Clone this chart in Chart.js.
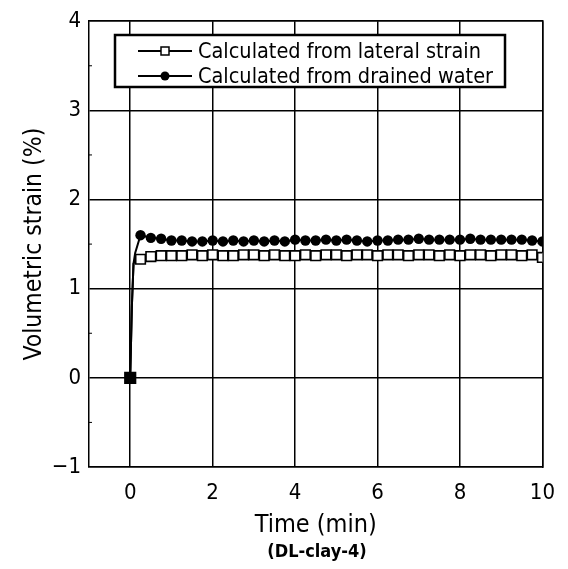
<!DOCTYPE html>
<html>
<head>
<meta charset="utf-8">
<script src="https://cdn.jsdelivr.net/npm/chart.js@4.4.0/dist/chart.umd.min.js"></script>
<style>
  html, body { margin: 0; padding: 0; background: #fff; }
  #wrap { width: 568px; height: 569px; position: relative; }
</style>
</head>
<body>
<div id="wrap"><canvas id="c" width="568" height="569"></canvas></div>
<script>
// ---- data ----
const lateralTime = [0, 0.04, 0.08, 0.12, 0.25, 0.5, 0.75, 1.0, 1.25, 1.5, 1.75, 2.0, 2.25, 2.5, 2.75, 3.0, 3.25, 3.5, 3.75, 4.0, 4.25, 4.5, 4.75, 5.0, 5.25, 5.5, 5.75, 6.0, 6.25, 6.5, 6.75, 7.0, 7.25, 7.5, 7.75, 8.0, 8.25, 8.5, 8.75, 9.0, 9.25, 9.5, 9.75, 10.0];
const lateralStrain = [0, 0.8, 1.28, 1.32, 1.33, 1.36, 1.37, 1.37, 1.37, 1.38, 1.37, 1.38, 1.37, 1.37, 1.38, 1.38, 1.37, 1.38, 1.37, 1.37, 1.38, 1.37, 1.38, 1.38, 1.37, 1.38, 1.38, 1.37, 1.38, 1.38, 1.37, 1.38, 1.38, 1.37, 1.38, 1.37, 1.38, 1.38, 1.37, 1.38, 1.38, 1.37, 1.38, 1.35];
const lateralMarker = [true, false, false, false, true, true, true, true, true, true, true, true, true, true, true, true, true, true, true, true, true, true, true, true, true, true, true, true, true, true, true, true, true, true, true, true, true, true, true, true, true, true, true, true];

const drainedTime = [0, 0.04, 0.08, 0.12, 0.25, 0.5, 0.75, 1.0, 1.25, 1.5, 1.75, 2.0, 2.25, 2.5, 2.75, 3.0, 3.25, 3.5, 3.75, 4.0, 4.25, 4.5, 4.75, 5.0, 5.25, 5.5, 5.75, 6.0, 6.25, 6.5, 6.75, 7.0, 7.25, 7.5, 7.75, 8.0, 8.25, 8.5, 8.75, 9.0, 9.25, 9.5, 9.75, 10.0];
const drainedStrain = [0, 0.8, 1.28, 1.4, 1.60, 1.57, 1.56, 1.54, 1.54, 1.53, 1.53, 1.54, 1.53, 1.54, 1.53, 1.54, 1.53, 1.54, 1.53, 1.55, 1.54, 1.54, 1.55, 1.54, 1.55, 1.54, 1.53, 1.54, 1.54, 1.55, 1.55, 1.56, 1.55, 1.55, 1.55, 1.55, 1.56, 1.55, 1.55, 1.55, 1.55, 1.55, 1.54, 1.53];
const drainedMarker = [false, false, false, false, true, true, true, true, true, true, true, true, true, true, true, true, true, true, true, true, true, true, true, true, true, true, true, true, true, true, true, true, true, true, true, true, true, true, true, true, true, true, true, true];

const seriesLabels = ["Calculated from lateral strain", "Calculated from drained water"];
const xTicks = [0, 2, 4, 6, 8, 10];
const yTicks = [-1, 0, 1, 2, 3, 4];
const xTitle = "Time (min)";
const yTitle = "Volumetric strain (%)";
const caption = "(DL-clay-4)";

// ---- build ----
const FONT = "'DejaVu Sans Condensed', 'Liberation Sans', Arial, sans-serif";
const toPts = (xs, ys) => xs.map((x, i) => ({ x: x, y: ys[i] }));

const legendPlugin = {
  id: 'boxLegend',
  afterDraw(chart) {
    const ctx = chart.ctx;
    const x0 = 115, y0 = 35, x1 = 505, y1 = 87;
    ctx.save();
    ctx.fillStyle = '#fff';
    ctx.fillRect(x0, y0, x1 - x0, y1 - y0);
    ctx.strokeStyle = '#000';
    ctx.lineWidth = 2.5;
    ctx.strokeRect(x0, y0, x1 - x0, y1 - y0);
    const rows = [51, 76];
    chart.data.datasets.forEach((ds, i) => {
      const y = rows[i];
      ctx.lineWidth = 2;
      ctx.beginPath();
      ctx.moveTo(138, y); ctx.lineTo(192, y);
      ctx.stroke();
      if (i === 0) {
        ctx.fillStyle = '#fff';
        ctx.fillRect(161, y - 4, 8, 8);
        ctx.lineWidth = 1.5;
        ctx.strokeRect(161, y - 4, 8, 8);
      } else {
        ctx.fillStyle = '#000';
        ctx.beginPath(); ctx.arc(165, y, 4.5, 0, Math.PI * 2); ctx.fill();
      }
      ctx.fillStyle = '#000';
      ctx.font = '21.5px ' + FONT;
      ctx.textBaseline = 'middle';
      ctx.textAlign = 'left';
      ctx.fillText(ds.label, 198, y + 1);
    });
    // caption
    ctx.font = 'bold 18px ' + FONT;
    ctx.textAlign = 'center';
    ctx.textBaseline = 'middle';
    ctx.fillText(caption, 317, 552);
    ctx.restore();
  }
};

const minorTicks = {
  id: 'minorTicks',
  afterDatasetsDraw(chart) {
    const { ctx, chartArea: a, scales: { y } } = chart;
    ctx.save();
    ctx.strokeStyle = '#000';
    ctx.lineWidth = 1;
    for (let v = -0.5; v < 4; v += 1) {
      const py = y.getPixelForValue(v);
      ctx.beginPath(); ctx.moveTo(a.left, py); ctx.lineTo(a.left + 3, py); ctx.stroke();
    }
    ctx.restore();
  }
};

const fmt = v => (v < 0 ? '\u2212' + Math.abs(v) : String(v));

new Chart(document.getElementById('c'), {
  type: 'line',
  data: {
    datasets: [
      {
        label: seriesLabels[0],
        data: toPts(lateralTime, lateralStrain),
        borderColor: '#000',
        borderWidth: 2,
        pointStyle: 'rect',
        pointRadius: lateralMarker.map((m, i) => m ? (i === 0 ? 7.5 : 6.8) : 0),
        pointBackgroundColor: lateralMarker.map((m, i) => i === 0 ? '#000' : '#fff'),
        pointBorderColor: '#000',
        pointBorderWidth: 1.6,
        tension: 0,
        order: 2
      },
      {
        label: seriesLabels[1],
        data: toPts(drainedTime, drainedStrain),
        borderColor: '#000',
        borderWidth: 2,
        pointStyle: 'circle',
        pointRadius: drainedMarker.map(m => m ? 5.2 : 0),
        pointBackgroundColor: '#000',
        pointBorderColor: '#000',
        pointBorderWidth: 0,
        tension: 0,
        order: 1
      }
    ]
  },
  options: {
    responsive: false,
    animation: false,
    layout: { padding: { top: 17, right: 23, left: 0, bottom: 0 } },
    plugins: { legend: { display: false }, tooltip: { enabled: false } },
    scales: {
      x: {
        type: 'linear',
        min: -1, max: 10,
        afterBuildTicks: s => { s.ticks = xTicks.map(v => ({ value: v })); },
        afterFit: s => { s.height = 102; },
        grid: { color: '#000', lineWidth: 1.5, drawTicks: false },
        border: { color: '#000', width: 1.5 },
        ticks: { color: '#000', font: { family: FONT, size: 22 }, padding: 13, maxRotation: 0, callback: fmt },
        title: { display: true, text: xTitle, color: '#000', font: { family: FONT, size: 25 }, padding: { top: 0, bottom: 29 } }
      },
      y: {
        type: 'linear',
        min: -1, max: 4,
        afterBuildTicks: s => { s.ticks = yTicks.map(v => ({ value: v })); },
        afterFit: s => { s.width = 89; },
        grid: { color: '#000', lineWidth: 1.5, drawTicks: false },
        border: { color: '#000', width: 1.5 },
        ticks: { color: '#000', font: { family: FONT, size: 22 }, padding: 8, callback: fmt },
        title: { display: true, text: yTitle, color: '#000', font: { family: FONT, size: 24.5 }, padding: { top: 20, bottom: 0 } }
      },
      x2: {
        type: 'linear', position: 'top', min: -1, max: 10,
        ticks: { display: false }, grid: { display: false, drawTicks: false },
        border: { color: '#000', width: 1.5 },
        afterFit: s => { s.height = 0; }
      },
      y2: {
        type: 'linear', position: 'right', min: -1, max: 4,
        ticks: { display: false }, grid: { display: false, drawTicks: false },
        border: { color: '#000', width: 1.5 },
        afterFit: s => { s.width = 0; }
      }
    }
  },
  plugins: [minorTicks, legendPlugin]
});
</script>
</body>
</html>
